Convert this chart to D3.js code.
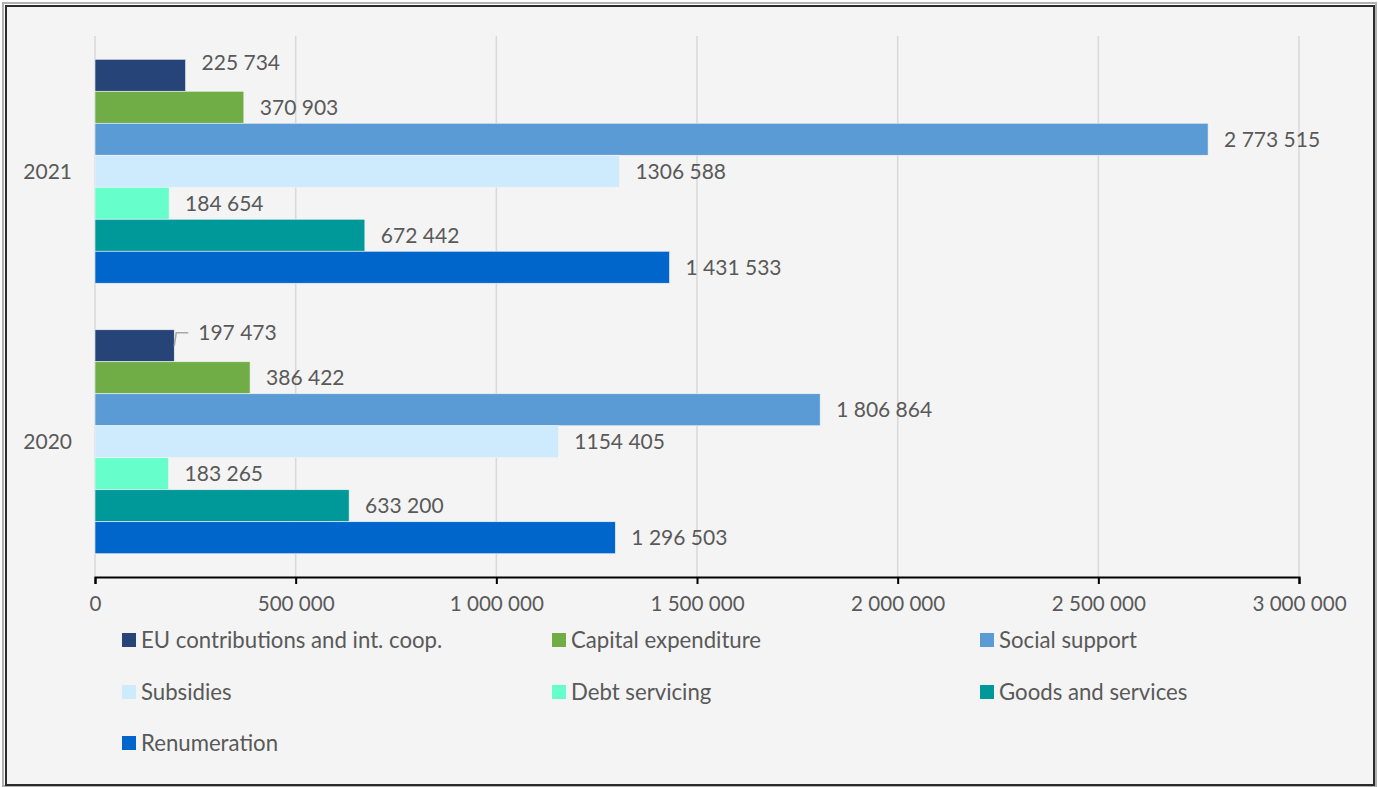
<!DOCTYPE html>
<html>
<head>
<meta charset="utf-8">
<script src="https://cdn.jsdelivr.net/npm/d3@7"></script>
<style>
  html, body { margin: 0; padding: 0; background: #ffffff; }
  svg { display: block; font-family: Lato, "Open Sans", sans-serif; }
</style>
</head>
<body>
<svg id="chart" width="1378" height="787"></svg>
<script>
// ---- data ----
const years = ["2021", "2020"];
const series = [
  "EU contributions and int. coop.",
  "Capital expenditure",
  "Social support",
  "Subsidies",
  "Debt servicing",
  "Goods and services",
  "Renumeration"
];
const colors = ["#264478", "#70ad47", "#5b9bd5", "#cdebfd", "#66ffcc", "#009999", "#0066cc"];
const values2021 = [225734, 370903, 2773515, 1306588, 184654, 672442, 1431533];
const values2020 = [197473, 386422, 1806864, 1154405, 183265, 633200, 1296503];
const labels2021 = ["225 734", "370 903", "2 773 515", "1306 588", "184 654", "672 442", "1 431 533"];
const labels2020 = ["197 473", "386 422", "1 806 864", "1154 405", "183 265", "633 200", "1 296 503"];
const xTicks = [0, 500000, 1000000, 1500000, 2000000, 2500000, 3000000];
const xTickLabels = ["0", "500 000", "1 000 000", "1 500 000", "2 000 000", "2 500 000", "3 000 000"];

const valuesByYear = { "2021": values2021, "2020": values2020 };
const labelsByYear = { "2021": labels2021, "2020": labels2020 };

const svg = d3.select("#chart");
const W = 1378, H = 787;
const textColor = "#595959";

// frame
svg.append("rect").attr("x", 0).attr("y", 0).attr("width", W).attr("height", H).attr("fill", "#ffffff");
svg.append("rect").attr("x", 3).attr("y", 3).attr("width", W - 5).attr("height", H - 4)
  .attr("fill", "none").attr("stroke", "#b0b0b0").attr("stroke-width", 2);
svg.append("rect").attr("x", 6).attr("y", 6).attr("width", 1368).attr("height", 779)
  .attr("fill", "#f4f4f4").attr("stroke", "#2b2b2b").attr("stroke-width", 2);

const plot = { left: 95, right: 1299, top: 36, bottom: 577 };

const x = d3.scaleLinear().domain([0, 3000000]).range([plot.left, plot.right]);
const y0 = d3.scaleBand().domain(years).range([plot.top, plot.bottom])
  .paddingInner(0.172).paddingOuter(0.086);
const y1 = d3.scaleBand().domain(series).range([0, y0.bandwidth()]).padding(0);

// gridlines
svg.append("g").selectAll("line").data(xTicks).join("line")
  .attr("x1", d => x(d)).attr("x2", d => x(d))
  .attr("y1", plot.top).attr("y2", plot.bottom)
  .attr("stroke", "#d9d9d9").attr("stroke-width", 1.5);

// bars
const groups = svg.append("g").selectAll("g").data(years).join("g")
  .attr("transform", d => `translate(0,${y0(d)})`);

groups.selectAll("rect").data(yr => series.map((s, i) => ({ yr, s, i, v: valuesByYear[yr][i] })))
  .join("rect")
  .attr("x", x(0))
  .attr("y", d => y1(d.s))
  .attr("width", d => x(d.v) - x(0))
  .attr("height", y1.bandwidth())
  .attr("fill", d => colors[d.i])
  .attr("stroke", "#f4f4f4").attr("stroke-width", 0.6);

// data labels
groups.each(function (yr) {
  const g = d3.select(this);
  series.forEach((s, i) => {
    const v = valuesByYear[yr][i];
    const bx = x(v);
    const cy = y1(s) + y1.bandwidth() / 2;
    let lx = bx + 16, ly = cy;
    if (i === 0) {
      ly = cy - 13;
      if (yr === "2020") {
        lx = bx + 24;
        g.append("path")
          .attr("d", `M${bx},${cy} L${bx + 2},${ly} L${bx + 14},${ly}`)
          .attr("fill", "none").attr("stroke", "#a6a6a6").attr("stroke-width", 1.5);
      }
    }
    g.append("text")
      .attr("x", lx).attr("y", ly)
      .attr("dy", "0.35em")
      .attr("fill", textColor)
      .attr("font-size", 21)
      .text(labelsByYear[yr][i]);
  });
});

// x axis
const xAxis = d3.axisBottom(x).tickValues(xTicks)
  .tickFormat((d, i) => xTickLabels[i]).tickSizeOuter(0).tickSize(7).tickPadding(12);
const ax = svg.append("g").attr("transform", `translate(0,${plot.bottom})`).call(xAxis);
ax.select(".domain").attr("stroke", "#000").attr("stroke-width", 2);
ax.selectAll(".tick line").attr("stroke", "#000").attr("stroke-width", 2);
ax.selectAll(".tick text").attr("fill", textColor).attr("font-size", 20.6)
  .attr("font-family", "Lato, 'Open Sans', sans-serif");

// y axis labels (years)
svg.append("g").selectAll("text").data(years).join("text")
  .attr("x", 72).attr("y", d => y0(d) + y0.bandwidth() / 2)
  .attr("dy", "0.35em").attr("text-anchor", "end")
  .attr("fill", textColor).attr("font-size", 21)
  .text(d => d);

// legend
const legend = svg.append("g");
const colX = [122, 552, 980];
const rowY = [640, 692, 743];
series.forEach((s, i) => {
  const cx = colX[i % 3], cy = rowY[Math.floor(i / 3)];
  legend.append("rect").attr("x", cx).attr("y", cy - 7).attr("width", 14).attr("height", 14)
    .attr("fill", colors[i]);
  legend.append("text").attr("x", cx + 19).attr("y", cy).attr("dy", "0.35em")
    .attr("fill", textColor).attr("font-size", 22.2).text(s);
});
</script>
</body>
</html>
